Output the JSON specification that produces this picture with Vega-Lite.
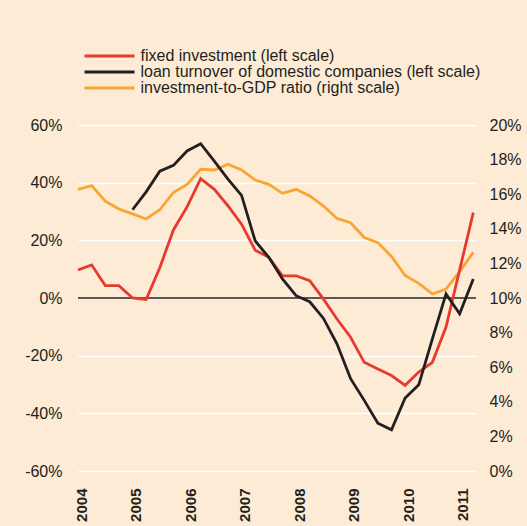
{
  "$schema": "https://vega.github.io/schema/vega-lite/v6.json",
  "width": 398,
  "height": 346,
  "autosize": {"type": "none"},
  "padding": {"left": 78, "top": 125, "right": 51, "bottom": 55},
  "background": "#fdebd5",
  "config": {"view": {"stroke": null}, "font": "Liberation Sans"},
  "datasets": {
    "series": [
      {"t": 2004.00, "series": "fixed investment (left scale)", "value": 9.7},
      {"t": 2004.25, "series": "fixed investment (left scale)", "value": 11.5},
      {"t": 2004.50, "series": "fixed investment (left scale)", "value": 4.3},
      {"t": 2004.75, "series": "fixed investment (left scale)", "value": 4.3},
      {"t": 2005.00, "series": "fixed investment (left scale)", "value": 0.0},
      {"t": 2005.25, "series": "fixed investment (left scale)", "value": -0.5},
      {"t": 2005.50, "series": "fixed investment (left scale)", "value": 10.5},
      {"t": 2005.75, "series": "fixed investment (left scale)", "value": 23.6},
      {"t": 2006.00, "series": "fixed investment (left scale)", "value": 31.6},
      {"t": 2006.25, "series": "fixed investment (left scale)", "value": 41.4},
      {"t": 2006.50, "series": "fixed investment (left scale)", "value": 37.7},
      {"t": 2006.75, "series": "fixed investment (left scale)", "value": 32.0},
      {"t": 2007.00, "series": "fixed investment (left scale)", "value": 25.6},
      {"t": 2007.25, "series": "fixed investment (left scale)", "value": 16.6},
      {"t": 2007.50, "series": "fixed investment (left scale)", "value": 14.1},
      {"t": 2007.75, "series": "fixed investment (left scale)", "value": 7.7},
      {"t": 2008.00, "series": "fixed investment (left scale)", "value": 7.7},
      {"t": 2008.25, "series": "fixed investment (left scale)", "value": 6.0},
      {"t": 2008.50, "series": "fixed investment (left scale)", "value": -0.3},
      {"t": 2008.75, "series": "fixed investment (left scale)", "value": -7.3},
      {"t": 2009.00, "series": "fixed investment (left scale)", "value": -13.6},
      {"t": 2009.25, "series": "fixed investment (left scale)", "value": -22.3},
      {"t": 2009.50, "series": "fixed investment (left scale)", "value": -24.6},
      {"t": 2009.75, "series": "fixed investment (left scale)", "value": -26.9},
      {"t": 2010.00, "series": "fixed investment (left scale)", "value": -30.3},
      {"t": 2010.25, "series": "fixed investment (left scale)", "value": -25.7},
      {"t": 2010.50, "series": "fixed investment (left scale)", "value": -22.3},
      {"t": 2010.75, "series": "fixed investment (left scale)", "value": -10.1},
      {"t": 2011.00, "series": "fixed investment (left scale)", "value": 9.7},
      {"t": 2011.25, "series": "fixed investment (left scale)", "value": 29.6},
      {"t": 2005.00, "series": "loan turnover of domestic companies (left scale)", "value": 30.6},
      {"t": 2005.25, "series": "loan turnover of domestic companies (left scale)", "value": 36.8},
      {"t": 2005.50, "series": "loan turnover of domestic companies (left scale)", "value": 44.0},
      {"t": 2005.75, "series": "loan turnover of domestic companies (left scale)", "value": 46.0},
      {"t": 2006.00, "series": "loan turnover of domestic companies (left scale)", "value": 51.0},
      {"t": 2006.25, "series": "loan turnover of domestic companies (left scale)", "value": 53.5},
      {"t": 2006.50, "series": "loan turnover of domestic companies (left scale)", "value": 47.5},
      {"t": 2006.75, "series": "loan turnover of domestic companies (left scale)", "value": 41.2},
      {"t": 2007.00, "series": "loan turnover of domestic companies (left scale)", "value": 35.6},
      {"t": 2007.25, "series": "loan turnover of domestic companies (left scale)", "value": 19.8},
      {"t": 2007.50, "series": "loan turnover of domestic companies (left scale)", "value": 14.1},
      {"t": 2007.75, "series": "loan turnover of domestic companies (left scale)", "value": 6.6},
      {"t": 2008.00, "series": "loan turnover of domestic companies (left scale)", "value": 0.8},
      {"t": 2008.25, "series": "loan turnover of domestic companies (left scale)", "value": -1.3},
      {"t": 2008.50, "series": "loan turnover of domestic companies (left scale)", "value": -7.0},
      {"t": 2008.75, "series": "loan turnover of domestic companies (left scale)", "value": -15.9},
      {"t": 2009.00, "series": "loan turnover of domestic companies (left scale)", "value": -28.0},
      {"t": 2009.25, "series": "loan turnover of domestic companies (left scale)", "value": -35.5},
      {"t": 2009.50, "series": "loan turnover of domestic companies (left scale)", "value": -43.4},
      {"t": 2009.75, "series": "loan turnover of domestic companies (left scale)", "value": -45.7},
      {"t": 2010.00, "series": "loan turnover of domestic companies (left scale)", "value": -34.7},
      {"t": 2010.25, "series": "loan turnover of domestic companies (left scale)", "value": -30.1},
      {"t": 2010.50, "series": "loan turnover of domestic companies (left scale)", "value": -14.2},
      {"t": 2010.75, "series": "loan turnover of domestic companies (left scale)", "value": 1.4},
      {"t": 2011.00, "series": "loan turnover of domestic companies (left scale)", "value": -5.5},
      {"t": 2011.25, "series": "loan turnover of domestic companies (left scale)", "value": 6.6},
      {"t": 2004.00, "series": "investment-to-GDP ratio (right scale)", "value": 16.27},
      {"t": 2004.25, "series": "investment-to-GDP ratio (right scale)", "value": 16.5},
      {"t": 2004.50, "series": "investment-to-GDP ratio (right scale)", "value": 15.6},
      {"t": 2004.75, "series": "investment-to-GDP ratio (right scale)", "value": 15.14},
      {"t": 2005.00, "series": "investment-to-GDP ratio (right scale)", "value": 14.86},
      {"t": 2005.25, "series": "investment-to-GDP ratio (right scale)", "value": 14.57},
      {"t": 2005.50, "series": "investment-to-GDP ratio (right scale)", "value": 15.1},
      {"t": 2005.75, "series": "investment-to-GDP ratio (right scale)", "value": 16.1},
      {"t": 2006.00, "series": "investment-to-GDP ratio (right scale)", "value": 16.57},
      {"t": 2006.25, "series": "investment-to-GDP ratio (right scale)", "value": 17.44},
      {"t": 2006.50, "series": "investment-to-GDP ratio (right scale)", "value": 17.4},
      {"t": 2006.75, "series": "investment-to-GDP ratio (right scale)", "value": 17.73},
      {"t": 2007.00, "series": "investment-to-GDP ratio (right scale)", "value": 17.4},
      {"t": 2007.25, "series": "investment-to-GDP ratio (right scale)", "value": 16.82},
      {"t": 2007.50, "series": "investment-to-GDP ratio (right scale)", "value": 16.57},
      {"t": 2007.75, "series": "investment-to-GDP ratio (right scale)", "value": 16.05},
      {"t": 2008.00, "series": "investment-to-GDP ratio (right scale)", "value": 16.28},
      {"t": 2008.25, "series": "investment-to-GDP ratio (right scale)", "value": 15.9},
      {"t": 2008.50, "series": "investment-to-GDP ratio (right scale)", "value": 15.33},
      {"t": 2008.75, "series": "investment-to-GDP ratio (right scale)", "value": 14.6},
      {"t": 2009.00, "series": "investment-to-GDP ratio (right scale)", "value": 14.35},
      {"t": 2009.25, "series": "investment-to-GDP ratio (right scale)", "value": 13.5},
      {"t": 2009.50, "series": "investment-to-GDP ratio (right scale)", "value": 13.2},
      {"t": 2009.75, "series": "investment-to-GDP ratio (right scale)", "value": 12.4},
      {"t": 2010.00, "series": "investment-to-GDP ratio (right scale)", "value": 11.3},
      {"t": 2010.25, "series": "investment-to-GDP ratio (right scale)", "value": 10.85},
      {"t": 2010.50, "series": "investment-to-GDP ratio (right scale)", "value": 10.23},
      {"t": 2010.75, "series": "investment-to-GDP ratio (right scale)", "value": 10.52},
      {"t": 2011.00, "series": "investment-to-GDP ratio (right scale)", "value": 11.52},
      {"t": 2011.25, "series": "investment-to-GDP ratio (right scale)", "value": 12.64}
    ],
    "zero": [{"value": 0}]
  },
  "layer": [
    {
      "data": {"name": "series"},
      "transform": [{"filter": "datum.series === 'investment-to-GDP ratio (right scale)'"}],
      "mark": {"type": "line", "strokeWidth": 2.8},
      "encoding": {
        "x": {
          "field": "t", "type": "quantitative",
          "scale": {"domain": [2004, 2011.3], "nice": false, "zero": false},
          "axis": {
            "values": [2004, 2005, 2006, 2007, 2008, 2009, 2010, 2011],
            "format": "d", "labelAngle": -90, "labelFontSize": 15, "labelFontWeight": "bold",
            "labelPadding": 17, "labelOffset": 3, "ticks": false, "domain": false, "grid": false,
            "title": null, "labelColor": "#231f20", "labelFont": "Liberation Sans"
          }
        },
        "y": {
          "field": "value", "type": "quantitative",
          "scale": {"domain": [0, 20], "nice": false, "zero": false},
          "axis": {
            "orient": "right", "values": [0, 2, 4, 6, 8, 10, 12, 14, 16, 18, 20],
            "labelExpr": "datum.value + '%'", "grid": false, "ticks": false, "domain": false,
            "labelPadding": 13, "labelFontSize": 16, "labelColor": "#231f20", "title": null,
            "labelFont": "Liberation Sans"
          }
        },
        "color": {
          "field": "series", "type": "nominal",
          "scale": {
            "domain": ["fixed investment (left scale)", "loan turnover of domestic companies (left scale)", "investment-to-GDP ratio (right scale)"],
            "range": ["#e8392f", "#231f20", "#f9a533"]
          },
          "legend": {
            "orient": "none", "legendX": 44.5, "legendY": -77, "title": null,
            "symbolType": "M-11.5,0H1", "symbolSize": 64, "symbolStrokeWidth": 3,
            "labelFontSize": 16, "labelFont": "Liberation Sans", "labelColor": "#231f20",
            "labelOffset": 2, "rowPadding": -1, "labelLimit": 0
          }
        }
      }
    },
    {
      "layer": [
        {
          "data": {"name": "zero"},
          "mark": {"type": "rule", "color": "#5b5757", "strokeWidth": 2},
          "encoding": {"y": {"field": "value", "type": "quantitative"}}
        },
        {
          "data": {"name": "series"},
          "transform": [{"filter": "datum.series !== 'investment-to-GDP ratio (right scale)'"}],
          "mark": {"type": "line", "strokeWidth": 2.8},
          "encoding": {
            "x": {"field": "t", "type": "quantitative"},
            "y": {
              "field": "value", "type": "quantitative",
              "scale": {"domain": [-60, 60], "nice": false, "zero": false},
              "axis": {
                "orient": "left", "values": [-60, -40, -20, 0, 20, 40, 60],
                "labelExpr": "datum.value + '%'", "grid": true, "gridColor": "#ffffff", "gridWidth": 1.6,
                "ticks": false, "domain": false, "labelPadding": 16, "labelFontSize": 16,
                "labelColor": "#231f20", "title": null, "labelFont": "Liberation Sans"
              }
            },
            "color": {"field": "series", "type": "nominal"}
          }
        }
      ]
    }
  ],
  "resolve": {"scale": {"y": "independent"}}
}
